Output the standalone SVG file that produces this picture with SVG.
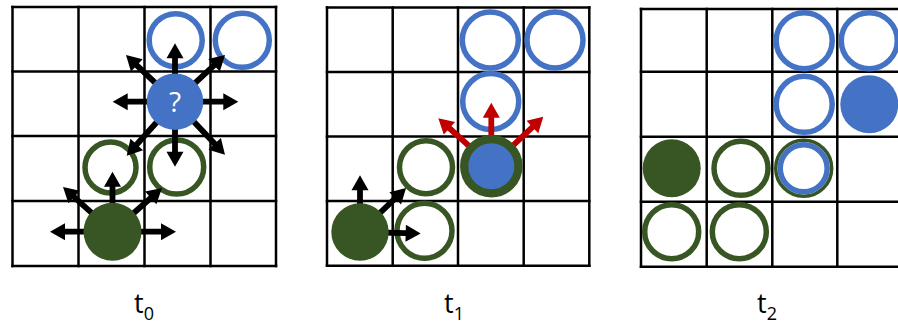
<svg xmlns="http://www.w3.org/2000/svg" width="898" height="326" viewBox="0 0 898 326">
<style>
.grid line{stroke:#000;stroke-width:2.5;stroke-linecap:square}
.bring{fill:none;stroke:#4472C4;stroke-width:5.5}
.gring{fill:none;stroke:#375623;stroke-width:5.5}
.bfill{fill:#4472C4}
.gfill{fill:#375623}
.arr{fill:#000}
.rarr{fill:#C00000}
.lbl{font-family:"Open Sans","Liberation Sans",sans-serif;font-size:27px;fill:#000}
.q{font-family:"Open Sans","Liberation Sans",sans-serif;font-size:28px;fill:#fff;text-anchor:middle}
</style>
<rect width="898" height="326" fill="#fff"/>
<!-- grids -->
<g class="grid" id="grid0">
<line x1="12.5" y1="7" x2="12.5" y2="266"/><line x1="78.5" y1="7" x2="78.5" y2="266"/><line x1="144.5" y1="7" x2="144.5" y2="266"/><line x1="210.5" y1="7" x2="210.5" y2="266"/><line x1="276" y1="7" x2="276" y2="266"/>
<line x1="12.5" y1="7" x2="276" y2="7"/><line x1="12.5" y1="71.5" x2="276" y2="71.5"/><line x1="12.5" y1="136" x2="276" y2="136"/><line x1="12.5" y1="201" x2="276" y2="201"/><line x1="12.5" y1="266" x2="276" y2="266"/>
</g>
<g class="grid" id="grid1">
<line x1="327" y1="7.5" x2="327" y2="265.7"/><line x1="392.7" y1="7.5" x2="392.7" y2="265.7"/><line x1="458" y1="7.5" x2="458" y2="265.7"/><line x1="523.7" y1="7.5" x2="523.7" y2="265.7"/><line x1="589.3" y1="7.5" x2="589.3" y2="265.7"/>
<line x1="327" y1="7.5" x2="589.3" y2="7.5"/><line x1="327" y1="72" x2="589.3" y2="72"/><line x1="327" y1="136.5" x2="589.3" y2="136.5"/><line x1="327" y1="201" x2="589.3" y2="201"/><line x1="327" y1="265.7" x2="589.3" y2="265.7"/>
</g>
<g class="grid" id="grid2">
<line x1="641" y1="9" x2="641" y2="266.7"/><line x1="706.7" y1="9" x2="706.7" y2="266.7"/><line x1="772.3" y1="9" x2="772.3" y2="266.7"/><line x1="837.3" y1="9" x2="837.3" y2="266.7"/>
<line x1="641" y1="9" x2="905" y2="9"/><line x1="641" y1="71.7" x2="905" y2="71.7"/><line x1="641" y1="136.7" x2="905" y2="136.7"/><line x1="641" y1="201.7" x2="905" y2="201.7"/><line x1="641" y1="266.7" x2="905" y2="266.7"/>
</g>
<!-- rings (t0) -->
<g id="t0-blue-ring-a"><circle class="bring" cx="175.7" cy="40.3" r="26.5"/></g>
<g id="t0-blue-ring-b"><circle class="bring" cx="242.3" cy="40.3" r="27"/></g>
<g id="t0-green-ring-a"><circle class="gring" cx="110.5" cy="167.5" r="25.5"/></g>
<g id="t0-green-ring-b"><circle class="gring" cx="176.7" cy="167" r="27"/></g>
<!-- rings (t1) -->
<g id="t1-blue-ring-a"><circle class="bring" cx="490.3" cy="40" r="28"/></g>
<g id="t1-blue-ring-b"><circle class="bring" cx="555" cy="40" r="28"/></g>
<g id="t1-blue-ring-c"><circle class="bring" cx="490.7" cy="101.5" r="28"/></g>
<g id="t1-green-ring-a"><circle class="gring" cx="426" cy="167.3" r="26.5"/></g>
<g id="t1-green-ring-b"><circle class="gring" cx="424.5" cy="230.8" r="27.5"/></g>
<!-- rings (t2) -->
<g id="t2-blue-ring-a"><circle class="bring" cx="804.2" cy="40.7" r="28"/></g>
<g id="t2-blue-ring-b"><circle class="bring" cx="869.3" cy="40.7" r="28"/></g>
<g id="t2-blue-ring-c"><circle class="bring" cx="804.2" cy="104.3" r="28"/></g>
<g id="t2-green-ring-a"><circle class="gring" cx="741" cy="168.3" r="27"/></g>
<g id="t2-green-ring-b"><circle class="gring" cx="671.7" cy="231.7" r="27"/></g>
<g id="t2-green-ring-c"><circle class="gring" cx="739.3" cy="231.7" r="27"/></g>
<g id="t2-mixed-ring"><circle fill="none" stroke="#375623" stroke-width="3.5" cx="803.7" cy="168.3" r="28"/><circle fill="none" stroke="#4472C4" stroke-width="5.5" cx="803.7" cy="168.3" r="23.5"/></g>
<!-- connectors -->
<g id="connectors">
<g id="t0-blue-arrows" class="arr">
<path transform="translate(175,101.7) rotate(-90)" d="M0,-2.9H43.4V-8.5L58.4,0L43.4,8.5V2.9H0Z"/>
<path transform="translate(175,101.7) rotate(90)" d="M0,-2.9H50V-8.5L65,0L50,8.5V2.9H0Z"/>
<path transform="translate(175,101.7) rotate(180)" d="M0,-2.9H47.3V-8.5L62.3,0L47.3,8.5V2.9H0Z"/>
<path transform="translate(175,101.7) rotate(0)" d="M0,-2.9H48.3V-8.5L63.3,0L48.3,8.5V2.9H0Z"/>
<path transform="translate(175,101.7) rotate(-136.4)" d="M0,-2.9H52.7V-8.5L67.7,0L52.7,8.5V2.9H0Z"/>
<path transform="translate(175,101.7) rotate(-43)" d="M0,-2.9H53.4V-8.5L68.4,0L53.4,8.5V2.9H0Z"/>
<path transform="translate(175,101.7) rotate(131.8)" d="M0,-2.9H57.4V-8.5L72.4,0L57.4,8.5V2.9H0Z"/>
<path transform="translate(175,101.7) rotate(46.7)" d="M0,-2.9H57.9V-8.5L72.9,0L57.9,8.5V2.9H0Z"/>
</g>
<g id="t0-green-arrows" class="arr">
<path transform="translate(112.5,231.7) rotate(-90)" d="M0,-2.9H45V-8.5L60,0L45,8.5V2.9H0Z"/>
<path transform="translate(112.5,231.7) rotate(180)" d="M0,-2.9H47.5V-8.5L62.5,0L47.5,8.5V2.9H0Z"/>
<path transform="translate(112.5,231.7) rotate(0)" d="M0,-2.9H48.5V-8.5L63.5,0L48.5,8.5V2.9H0Z"/>
<path transform="translate(112.5,231.7) rotate(-137.9)" d="M0,-2.9H51.7V-8.5L66.7,0L51.7,8.5V2.9H0Z"/>
<path transform="translate(112.5,231.7) rotate(-41.4)" d="M0,-2.9H51V-8.5L66,0L51,8.5V2.9H0Z"/>
</g>
<g id="t1-green-arrows" class="arr">
<path transform="translate(360,232) rotate(-90)" d="M0,-2.9H41.7V-8.5L56.7,0L41.7,8.5V2.9H0Z"/>
<path transform="translate(360,232) rotate(-43.7)" d="M0,-2.9H48.7V-8.5L63.7,0L48.7,8.5V2.9H0Z"/>
<path transform="translate(360,232) rotate(1.5)" d="M0,-2.9H45.7V-8.5L60.7,0L45.7,8.5V2.9H0Z"/>
</g>
<g id="t1-red-arrows" class="rarr">
<path transform="translate(491.3,166.2) rotate(-90)" d="M0,-2.9H48.5V-8.5L63.5,0L48.5,8.5V2.9H0Z"/>
<path transform="translate(491.3,166.2) rotate(-137.8)" d="M0,-2.9H56.5V-8.5L71.5,0L56.5,8.5V2.9H0Z"/>
<path transform="translate(491.3,166.2) rotate(-43.6)" d="M0,-2.9H56.8V-8.5L71.8,0L56.8,8.5V2.9H0Z"/>
</g>
</g>
<!-- filled nodes -->
<g id="t0-query"><circle class="bfill" cx="175" cy="101.7" r="28.3"/><text class="q" x="175" y="111.5">?</text></g>
<g id="t0-green-agent"><circle class="gfill" cx="112.5" cy="231.7" r="29"/></g>
<g id="t1-green-agent"><circle class="gfill" cx="360" cy="232" r="28.7"/></g>
<g id="t1-mixed"><circle fill="#4472C4" stroke="#375623" stroke-width="8.3" cx="491.3" cy="166.2" r="27.1"/></g>
<g id="t2-blue-agent"><circle class="bfill" cx="869.3" cy="104.3" r="29"/></g>
<g id="t2-green-agent"><circle class="gfill" cx="671.7" cy="168.3" r="29"/></g>
<!-- labels -->
<text class="lbl" x="134" y="313">t<tspan font-size="18" dy="7">0</tspan></text>
<text class="lbl" x="444" y="313">t<tspan font-size="18" dy="7">1</tspan></text>
<text class="lbl" x="757" y="313">t<tspan font-size="18" dy="7">2</tspan></text>
</svg>
